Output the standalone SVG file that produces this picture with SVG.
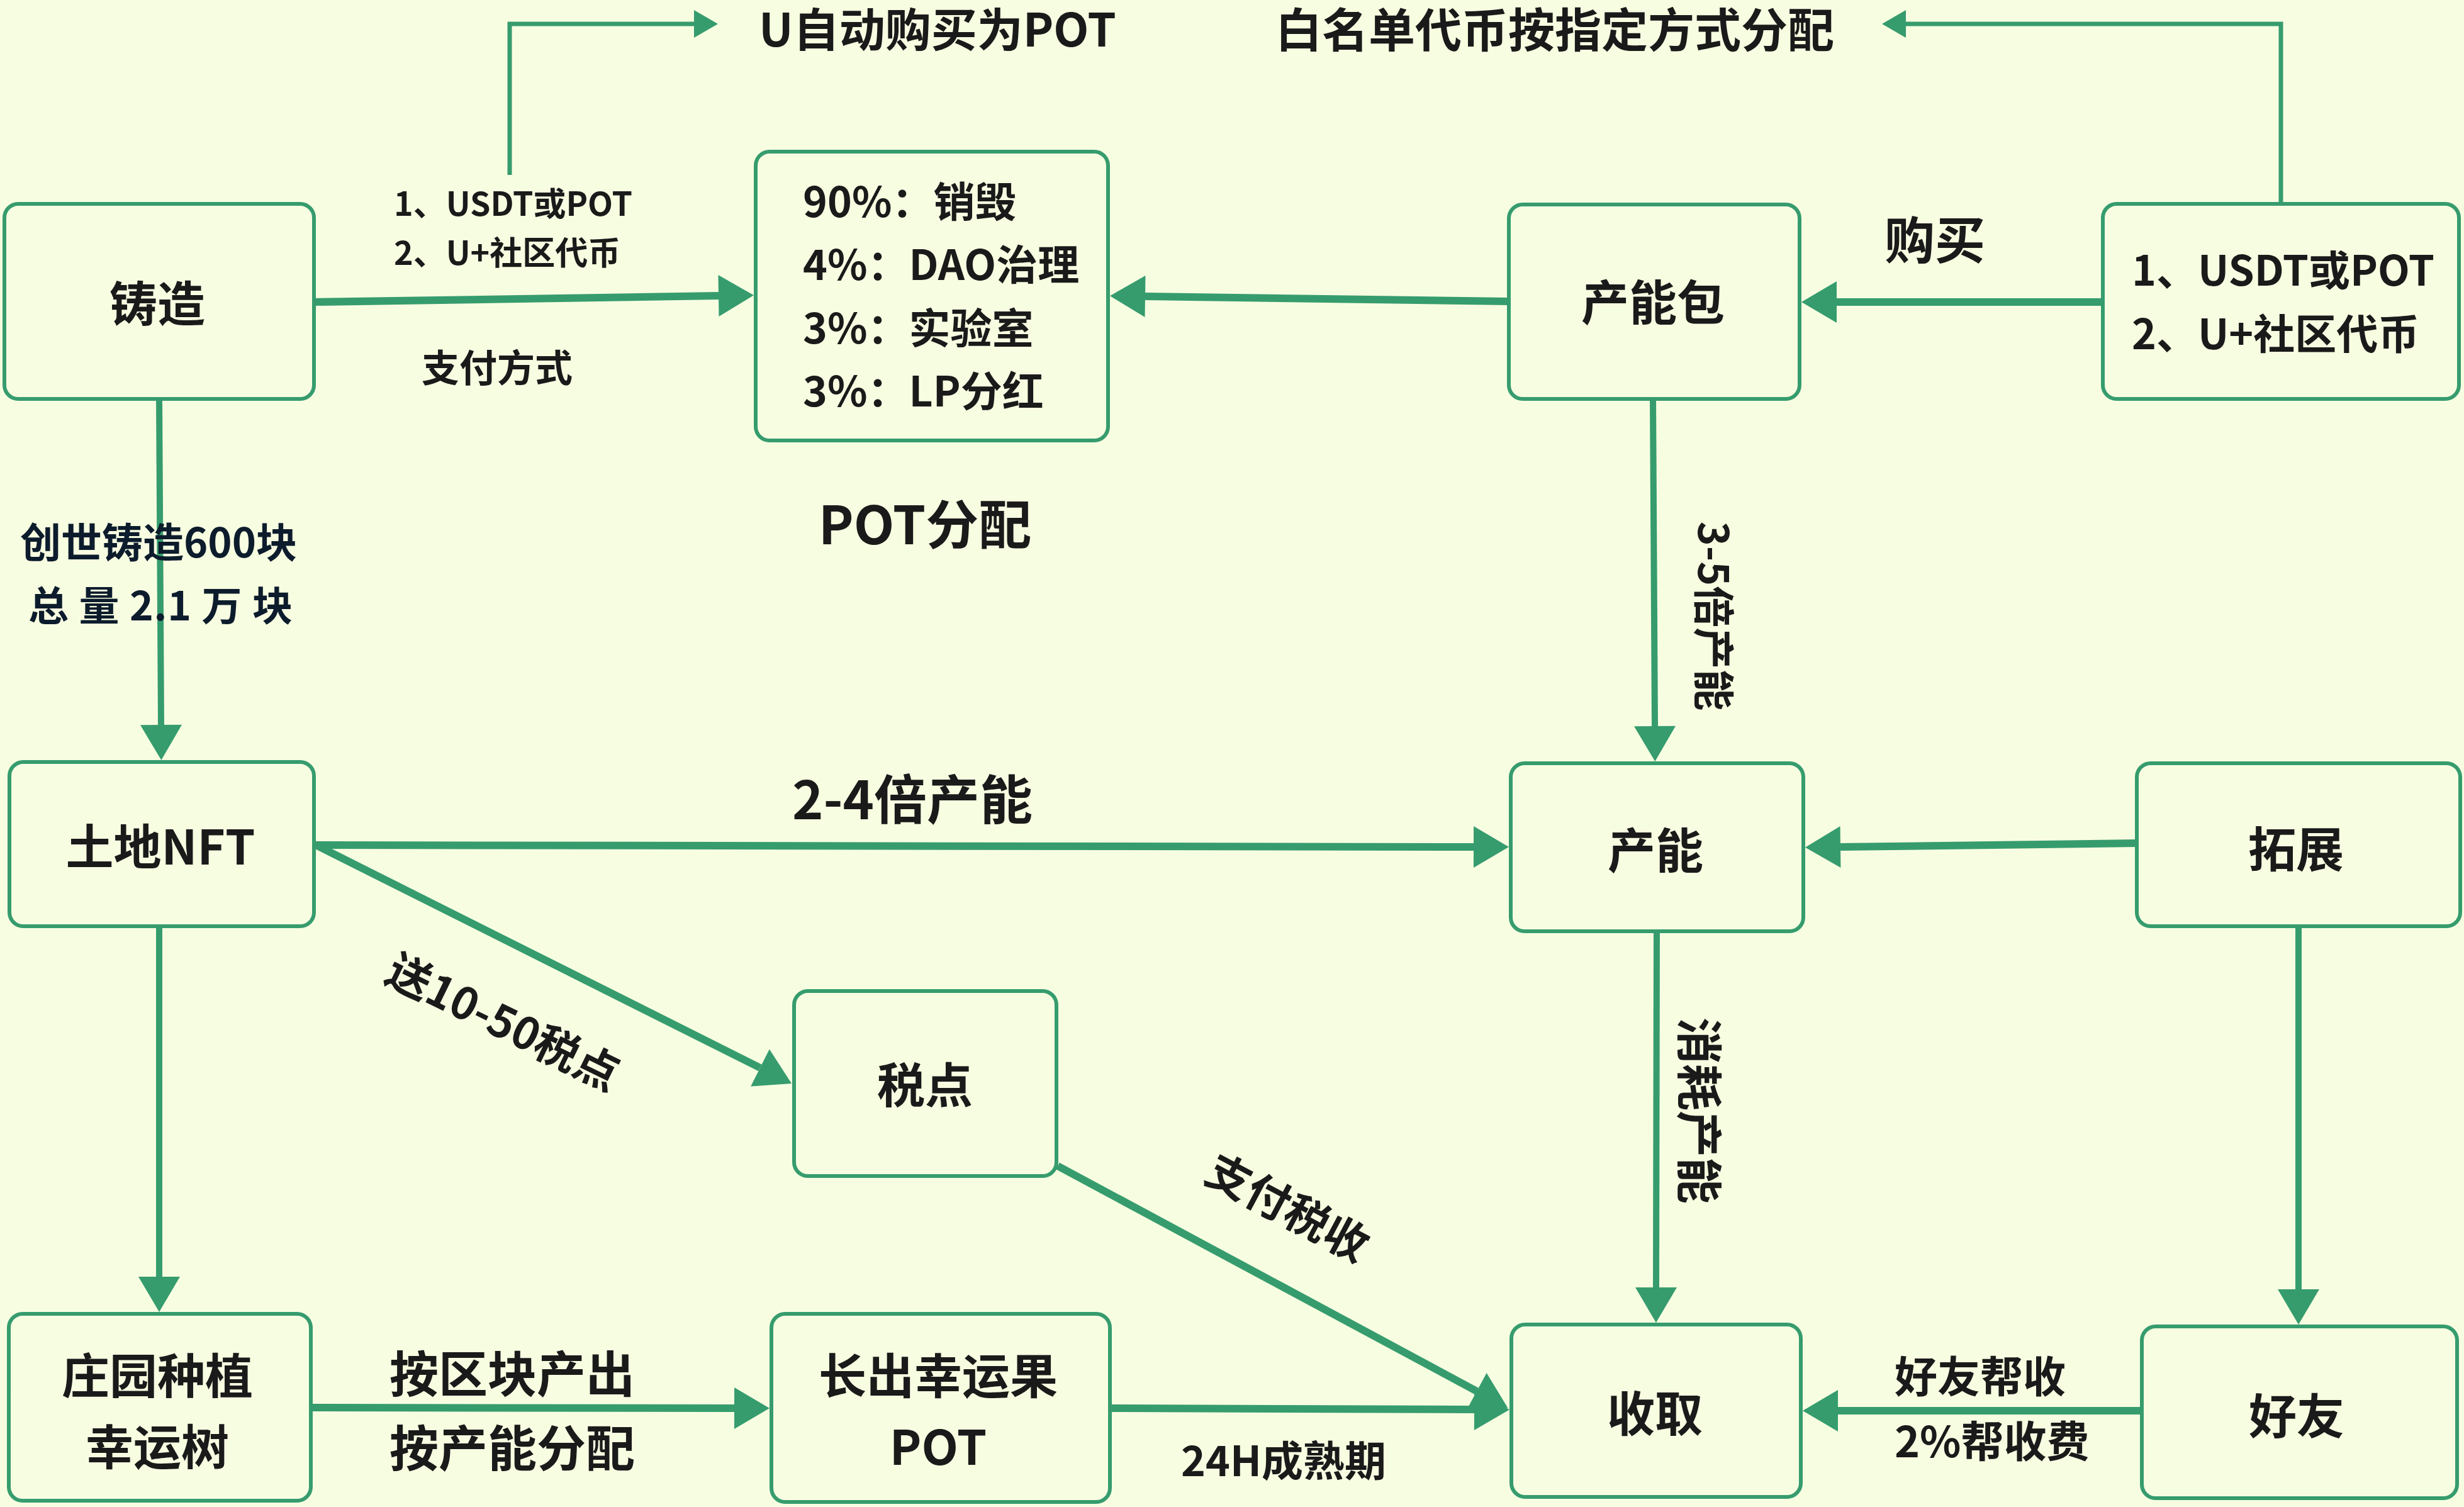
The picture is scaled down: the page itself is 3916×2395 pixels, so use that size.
<svg xmlns="http://www.w3.org/2000/svg" width="3916" height="2395" viewBox="0 0 3916 2395">
  <defs>
    <style>
      .bg { fill: #f7fde1; }
      .node rect { fill: #f7fde1; stroke: #369c6e; stroke-width: 6; }
      .t { font-family: "Noto Sans CJK SC", "Noto Sans", sans-serif; font-weight: 700; fill: #1a1a1a; }
      .c { text-anchor: middle; dominant-baseline: central; }
      .s { text-anchor: start; dominant-baseline: central; }
      .navy { fill: #0c1c2c; }
      .ln { fill: none; stroke: #369c6e; stroke-linejoin: miter; }
      .thick { stroke-width: 12; }
      .mid { stroke-width: 10; }
      .thin { stroke-width: 7; }
      .big { marker-end: url(#ah); }
      .small { marker-end: url(#ahs); }
    </style>
    <marker id="ah" markerUnits="userSpaceOnUse" viewBox="0 -33 56 66" markerWidth="56" markerHeight="66" refX="0" refY="0" orient="auto" overflow="visible">
      <path d="M0,-33 L56,0 L0,33 z" fill="#369c6e"/>
    </marker>
    <marker id="ahs" markerUnits="userSpaceOnUse" viewBox="0 -22 38 44" markerWidth="38" markerHeight="44" refX="0" refY="0" orient="auto" overflow="visible">
      <path d="M0,-22 L38,0 L0,22 z" fill="#369c6e"/>
    </marker>
  </defs>

  <rect class="bg" x="0" y="0" width="3916" height="2395"/>

  <!-- connectors -->
  <g id="connectors">
    <!-- mint: payment into POT split -->
    <path class="ln thick big" d="M500,480 L1142,470"/>
    <path class="ln thin small" d="M810,278 V38 H1103"/>
    <!-- capacity pack: payment into POT split, whitelist branch -->
    <path class="ln thick big" d="M2398,479 L1820,471"/>
    <path class="ln thick big" d="M3342,480 L2919,480"/>
    <path class="ln thin small" d="M3625,324 V38 H3029"/>
    <!-- mint to land NFT -->
    <path class="ln mid big" d="M253,634 L256,1152"/>
    <!-- land NFT outputs -->
    <path class="ln thick big" d="M499,1343 L2342,1346"/>
    <path class="ln thick big" d="M502,1343 L1208,1697"/>
    <path class="ln mid big" d="M253,1472 L253,2029"/>
    <!-- tax points to harvest -->
    <path class="ln thick big" d="M1681,1853 L2347,2211"/>
    <!-- capacity column -->
    <path class="ln mid big" d="M2627,634 L2630,1154"/>
    <path class="ln mid big" d="M2633,1480 L2632,2046"/>
    <!-- expansion -->
    <path class="ln thick big" d="M3396,1340 L2925,1346"/>
    <path class="ln mid big" d="M3653,1472 L3653,2049"/>
    <!-- friend help harvest -->
    <path class="ln thick big" d="M3404,2242 L2921,2242"/>
    <!-- bottom row -->
    <path class="ln thick big" d="M494,2237 L1167,2238"/>
    <path class="ln thick big" d="M1764,2238 L2343,2240"/>
  </g>

  <!-- connector labels -->
  <g id="labels">
    <text class="t c" x="1490" y="42" font-size="73">U自动购买为POT</text>
    <text class="t c" x="2471" y="42" font-size="74">白名单代币按指定方式分配</text>
    <text class="t s" x="626" y="320" font-size="52">1、USDT或POT</text>
    <text class="t s" x="626" y="398" font-size="52">2、U+社区代币</text>
    <text class="t c" x="790" y="580" font-size="60">支付方式</text>
    <text class="t c" x="1470" y="828" font-size="84">POT分配</text>
    <text class="t c" x="3075" y="376" font-size="80">购买</text>
    <text class="t c navy" x="252" y="858" font-size="65">创世铸造600块</text>
    <text class="t c navy" x="255" y="958" font-size="64" textLength="420" lengthAdjust="spacing">总 量 2.1 万 块</text>
    <text class="t c" x="1450" y="1265" font-size="84">2-4倍产能</text>
    <text class="t c" font-size="70" transform="translate(802,1620) rotate(26)">送10-50税点</text>
    <text class="t c" font-size="70" transform="translate(2049,1915) rotate(28)">支付税收</text>
    <text class="t c" font-size="66" transform="translate(2728,979) rotate(90)">3-5倍产能</text>
    <text class="t c" font-size="74" transform="translate(2705,1765) rotate(90)">消耗产能</text>
    <text class="t s" x="3011" y="2183" font-size="68">好友帮收</text>
    <text class="t s" x="3011" y="2286" font-size="68">2%帮收费</text>
    <text class="t c" x="814" y="2179" font-size="78">按区块产出</text>
    <text class="t c" x="814" y="2297" font-size="78">按产能分配</text>
    <text class="t c" x="2040" y="2317" font-size="66">24H成熟期</text>
  </g>

  <!-- nodes -->
  <g id="node-mint" class="node">
    <rect x="7" y="324" width="492" height="310" rx="22"/>
    <text class="t c" x="250" y="478" font-size="76">铸造</text>
  </g>
  <g id="node-pot-split" class="node">
    <rect x="1201" y="241" width="560" height="459" rx="22"/>
    <text class="t s" x="1276" y="316" font-size="66">90%：销毁</text>
    <text class="t s" x="1276" y="416" font-size="66">4%：DAO治理</text>
    <text class="t s" x="1276" y="517" font-size="66">3%：实验室</text>
    <text class="t s" x="1276" y="617" font-size="66">3%：LP分红</text>
  </g>
  <g id="node-capacity-pack" class="node">
    <rect x="2398" y="325" width="462" height="309" rx="22"/>
    <text class="t c" x="2627" y="476" font-size="76">产能包</text>
  </g>
  <g id="node-payment" class="node">
    <rect x="3342" y="324" width="566" height="310" rx="22"/>
    <text class="t s" x="3388" y="425" font-size="66">1、USDT或POT</text>
    <text class="t s" x="3388" y="526" font-size="66">2、U+社区代币</text>
  </g>
  <g id="node-land" class="node">
    <rect x="15" y="1211" width="484" height="261" rx="22"/>
    <text class="t c" x="255" y="1341" font-size="76">土地NFT</text>
  </g>
  <g id="node-capacity" class="node">
    <rect x="2401" y="1213" width="465" height="267" rx="22"/>
    <text class="t c" x="2631" y="1347" font-size="76">产能</text>
  </g>
  <g id="node-expand" class="node">
    <rect x="3396" y="1213" width="514" height="259" rx="22"/>
    <text class="t c" x="3649" y="1345" font-size="76">拓展</text>
  </g>
  <g id="node-tax" class="node">
    <rect x="1262" y="1575" width="417" height="294" rx="22"/>
    <text class="t c" x="1470" y="1720" font-size="76">税点</text>
  </g>
  <g id="node-manor" class="node">
    <rect x="14" y="2088" width="480" height="297" rx="22"/>
    <text class="t c" x="250" y="2182" font-size="76">庄园种植</text>
    <text class="t c" x="250" y="2295" font-size="76">幸运树</text>
  </g>
  <g id="node-fruit" class="node">
    <rect x="1226" y="2088" width="538" height="299" rx="22"/>
    <text class="t c" x="1491" y="2182" font-size="76">长出幸运果</text>
    <text class="t c" x="1491" y="2295" font-size="76">POT</text>
  </g>
  <g id="node-harvest" class="node">
    <rect x="2402" y="2105" width="460" height="274" rx="22"/>
    <text class="t c" x="2630" y="2242" font-size="76">收取</text>
  </g>
  <g id="node-friend" class="node">
    <rect x="3404" y="2108" width="501" height="273" rx="22"/>
    <text class="t c" x="3650" y="2246" font-size="76">好友</text>
  </g>
</svg>
